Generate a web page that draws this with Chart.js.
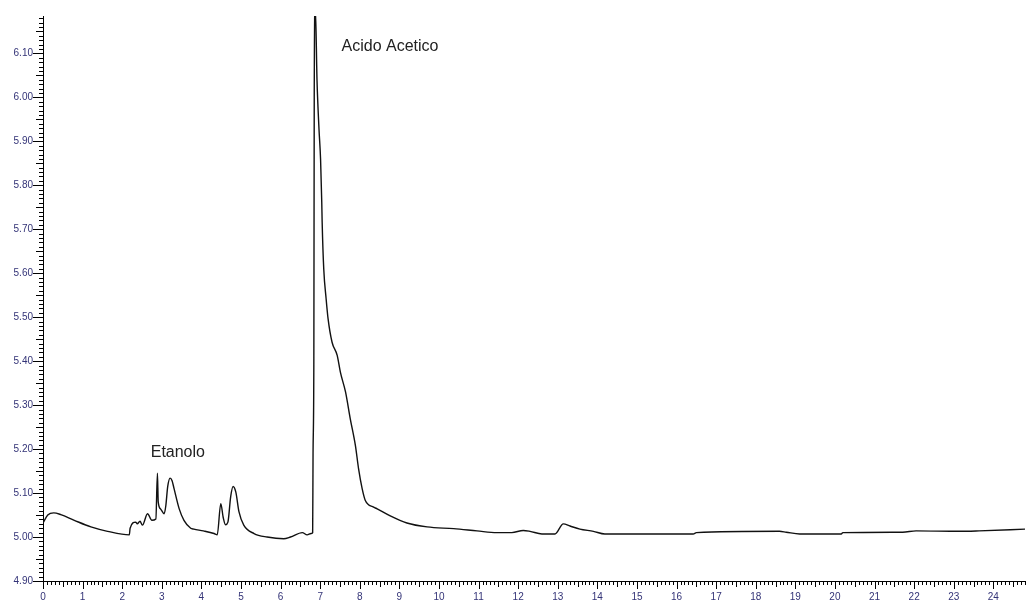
<!DOCTYPE html>
<html>
<head>
<meta charset="utf-8">
<script src="https://cdn.jsdelivr.net/npm/chart.js@4/dist/chart.umd.min.js"></script>
<style>
  body { margin: 0; background: #fff; }
</style>
</head>
<body>
<canvas id="cromatogramma" width="1027" height="601"></canvas>
<script>
// tempo di ritenzione (min)
var tempi = [0.00, 0.12, 0.27, 0.45, 0.79, 1.21, 1.63, 2.18, 2.20, 2.34, 2.38, 2.45, 2.51, 2.64, 2.75, 2.85, 2.89, 2.91, 2.97, 3.06,
  3.10, 3.15, 3.21, 3.26, 3.31, 3.44, 3.56, 3.73, 3.81, 4.05, 4.32, 4.40, 4.49, 4.55, 4.61, 4.67, 4.74, 4.80, 4.87, 4.95,
  5.07, 5.33, 5.66, 6.08, 6.25, 6.55, 6.67, 6.77, 6.81, 6.82, 6.84, 6.85, 6.87, 6.88, 6.92, 6.97, 7.01, 7.04, 7.05, 7.09,
  7.15, 7.20, 7.30, 7.43, 7.51, 7.64, 7.76, 7.89, 7.97, 8.06, 8.14, 8.35, 8.44, 8.77, 9.19, 9.70, 10.37, 10.96, 11.46, 11.84,
  12.13, 12.30, 12.60, 12.93, 13.14, 13.31, 13.56, 13.90, 14.19, 16.42, 16.50, 18.60, 18.77, 19.11, 20.16, 20.20, 21.71, 22.05, 23.14, 23.64,
  24.82];

// segnale del rivelatore
var segnale = [5.032, 5.050, 5.055, 5.051, 5.038, 5.023, 5.013, 5.005, 5.020, 5.034, 5.030, 5.036, 5.027, 5.053, 5.038, 5.041, 5.145, 5.080, 5.064, 5.053,
  5.070, 5.115, 5.134, 5.128, 5.110, 5.064, 5.038, 5.020, 5.018, 5.014, 5.008, 5.005, 5.076, 5.045, 5.028, 5.034, 5.092, 5.115, 5.102, 5.057,
  5.027, 5.008, 5.000, 4.996, 5.000, 5.010, 5.005, 5.008, 5.010, 5.190, 5.400, 6.000, 6.200, 6.200, 6.039, 5.928, 5.859, 5.761, 5.716, 5.610,
  5.542, 5.496, 5.443, 5.413, 5.375, 5.330, 5.269, 5.208, 5.155, 5.110, 5.083, 5.068, 5.064, 5.048, 5.032, 5.023, 5.019, 5.014, 5.010, 5.010,
  5.015, 5.013, 5.007, 5.007, 5.030, 5.025, 5.018, 5.013, 5.007, 5.007, 5.010, 5.013, 5.011, 5.007, 5.007, 5.010, 5.011, 5.014, 5.013, 5.014,
  5.018];

// etichette degli assi
var tickX = [0, 1, 2, 3, 4, 5, 6, 7, 8, 9, 10, 11, 12, 13, 14, 15, 16, 17, 18, 19, 20, 21, 22, 23, 24];
var tickY = [4.90, 5.00, 5.10, 5.20, 5.30, 5.40, 5.50, 5.60, 5.70, 5.80, 5.90, 6.00, 6.10];

// nomi dei picchi
var picchi = ['Etanolo', 'Acido Acetico'];
var picchiTempo = [2.72, 7.54];
var picchiSegnale = [5.182, 6.105];

window.addEventListener('load', disegna);

function disegna() {
  var canvas = document.getElementById('cromatogramma');
  var ctx = canvas.getContext('2d');
  var coloreEtichette = '#333377';

  var punti = tempi.map(function (t, i) { return { x: t, y: segnale[i] }; });

  // tacche principali, medie e piccole disegnate con le scale
  var tacche = {
    id: 'tacche',
    afterDraw: function (chart) {
      var c = chart.ctx;
      var sx = chart.scales.x, sy = chart.scales.y;
      var area = chart.chartArea;
      c.save();
      c.strokeStyle = '#000';
      c.lineWidth = 1;
      c.beginPath();
      for (var i = 490; i <= 618; i++) {
        var py = Math.round(sy.getPixelForValue(i / 100)) + 0.5;
        var l = i % 10 === 0 ? 10 : (i % 5 === 0 ? 7 : 4);
        c.moveTo(area.left - l, py);
        c.lineTo(area.left, py);
      }
      for (var j = 0; j <= 248; j++) {
        var px = Math.round(sx.getPixelForValue(j / 10)) + 0.5;
        var lx = j % 10 === 0 ? 8 : (j % 5 === 0 ? 6 : 4);
        c.moveTo(px, area.bottom);
        c.lineTo(px, area.bottom + lx);
      }
      c.stroke();
      // nomi dei picchi
      c.fillStyle = '#222';
      c.font = '16px "Liberation Sans", Arial, sans-serif';
      c.textBaseline = 'alphabetic';
      c.textAlign = 'left';
      for (var k = 0; k < picchi.length; k++) {
        c.fillText(picchi[k], sx.getPixelForValue(picchiTempo[k]), sy.getPixelForValue(picchiSegnale[k]));
      }
      c.restore();
    }
  };

  new Chart(ctx, {
    type: 'scatter',
    data: {
      datasets: [{
        data: punti,
        showLine: true,
        borderColor: '#111',
        borderWidth: 1.4,
        pointRadius: 0,
        cubicInterpolationMode: 'monotone'
      }]
    },
    options: {
      responsive: false,
      animation: false,
      devicePixelRatio: 1,
      layout: { padding: { top: 14, right: 2, left: 0, bottom: 0 } },
      plugins: { legend: { display: false }, tooltip: { enabled: false } },
      scales: {
        x: {
          type: 'linear',
          min: 0,
          max: 24.8,
          afterBuildTicks: function (scale) {
            scale.ticks = tickX.map(function (v) { return { value: v }; });
          },
          afterFit: function (scale) { scale.height = 20; },
          grid: { display: false, drawTicks: false },
          border: { display: true, color: '#000', width: 1 },
          ticks: {
            autoSkip: false,
            maxRotation: 0,
            padding: 10,
            color: coloreEtichette,
            font: { family: '"Liberation Sans", Arial, sans-serif', size: 10 },
            callback: function (v) { return String(v); }
          }
        },
        y: {
          type: 'linear',
          min: 4.90,
          max: 6.185,
          afterBuildTicks: function (scale) {
            scale.ticks = tickY.map(function (v) { return { value: v }; });
          },
          afterFit: function (scale) { scale.width = 43; },
          grid: { display: false, drawTicks: false },
          border: { display: true, color: '#000', width: 1 },
          ticks: {
            autoSkip: false,
            padding: 10,
            color: coloreEtichette,
            font: { family: '"Liberation Sans", Arial, sans-serif', size: 10 },
            callback: function (v) { return Number(v).toFixed(2); }
          }
        }
      }
    },
    plugins: [tacche]
  });
}
</script>
</body>
</html>
